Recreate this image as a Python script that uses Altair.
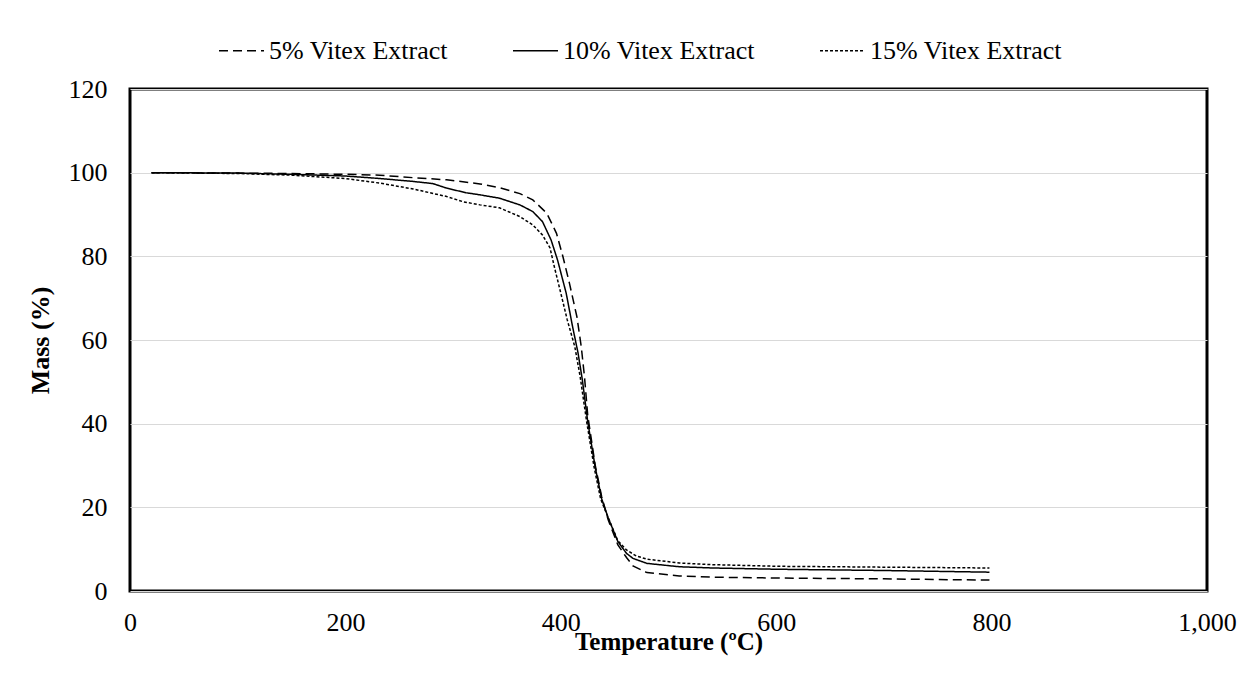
import altair as alt
import pandas as pd

series = ["5% Vitex Extract", "10% Vitex Extract", "15% Vitex Extract"]

t5 = [20, 100, 150, 201, 232, 263, 294, 325, 343, 362, 374, 387, 396, 402, 408, 415, 419, 422, 425, 432, 438, 444, 453, 461, 467, 480, 510, 541, 600, 700, 798]
m5 = [100, 99.9, 99.8, 99.6, 99.4, 98.8, 98.3, 97.3, 96.4, 95.0, 93.5, 90.3, 85.5, 79.9, 73.6, 65.5, 58.4, 51.2, 42.0, 30.0, 22.5, 17.0, 11.0, 8.0, 6.0, 4.4, 3.6, 3.3, 3.1, 2.9, 2.6]

t10 = [20, 100, 150, 200, 232, 263, 281, 294, 312, 325, 343, 362, 374, 383, 391, 397, 405, 411, 416, 420, 425, 432, 438, 444, 453, 461, 467, 480, 510, 541, 600, 700, 798]
m10 = [100, 99.9, 99.6, 99.2, 98.6, 97.9, 97.4, 96.3, 95.2, 94.7, 93.9, 92.3, 90.7, 88.3, 83.9, 79.1, 71.2, 63.1, 56.9, 50.5, 40.5, 29.5, 22.0, 17.5, 11.8, 9.0, 7.8, 6.6, 5.8, 5.5, 5.2, 4.9, 4.5]

t15 = [20, 100, 150, 200, 232, 263, 294, 310, 325, 343, 362, 374, 383, 390, 394, 400, 406, 413, 418, 424, 431, 437, 444, 453, 461, 470, 480, 510, 541, 603, 700, 798]
m15 = [100, 99.8, 99.4, 98.6, 97.5, 96.1, 94.3, 93.0, 92.3, 91.6, 89.5, 87.5, 85.1, 82.0, 77.5, 71.2, 64.8, 58.4, 51.2, 40.5, 29.5, 22.0, 17.5, 12.0, 9.8, 8.4, 7.6, 6.7, 6.3, 5.9, 5.7, 5.5]

x_ticks = [0, 200, 400, 600, 800, 1000]
y_ticks = [0, 20, 40, 60, 80, 100, 120]

rows = []
for name, ts, ms in zip(series, [t5, t10, t15], [m5, m10, m15]):
    for t, m in zip(ts, ms):
        rows.append({"S": name, "T": t, "M": m})
df = pd.DataFrame(rows)

FONT = "Liberation Serif"

chart = alt.Chart(df).mark_line(strokeWidth=1.5, color="black", clip=True).encode(
    x=alt.X("T:Q",
            scale=alt.Scale(domain=[0, 1000], nice=False),
            axis=alt.Axis(values=x_ticks, format=",.0f", title="Temperature (ºC)",
                          grid=False, domain=False, ticks=False, labelFlush=False,
                          labelPadding=18, titleY=50, titleBaseline="middle",
                          titleFontSize=25)),
    y=alt.Y("M:Q",
            scale=alt.Scale(domain=[0, 120], nice=False),
            axis=alt.Axis(values=y_ticks, format=".0f", title="Mass (%)",
                          grid=True, gridColor="#d9d9d9", gridWidth=1,
                          domain=False, ticks=False, labelFlush=False, labelPadding=23,
                          titleX=-90, titleY=251, titleBaseline="middle")),
    strokeDash=alt.StrokeDash(
        "S:N",
        scale=alt.Scale(domain=series, range=[[9, 5], [1, 0], [3, 2]]),
        legend=alt.Legend(orient="none", legendX=88, legendY=-62,
                          direction="horizontal", title=None,
                          symbolType="stroke", symbolSize=2025,
                          symbolStrokeWidth=1.5, symbolStrokeColor="black",
                          labelFont=FONT, labelFontSize=26, labelColor="black",
                          labelOffset=4, columnPadding=62, labelLimit=400)),
    order=alt.Order("T:Q"),
).properties(
    width=1077, height=502,
    autosize=alt.AutoSizeParams(type="none"),
    padding={"left": 122, "top": 81, "right": 30, "bottom": 92},
).configure_view(
    stroke="black", strokeWidth=3
).configure_axis(
    labelFont=FONT, labelFontSize=26, labelColor="black",
    titleFont=FONT, titleFontSize=26, titleFontWeight="bold", titleColor="black",
)

chart.save("out.html", embed_options={"renderer": "svg", "actions": False})
